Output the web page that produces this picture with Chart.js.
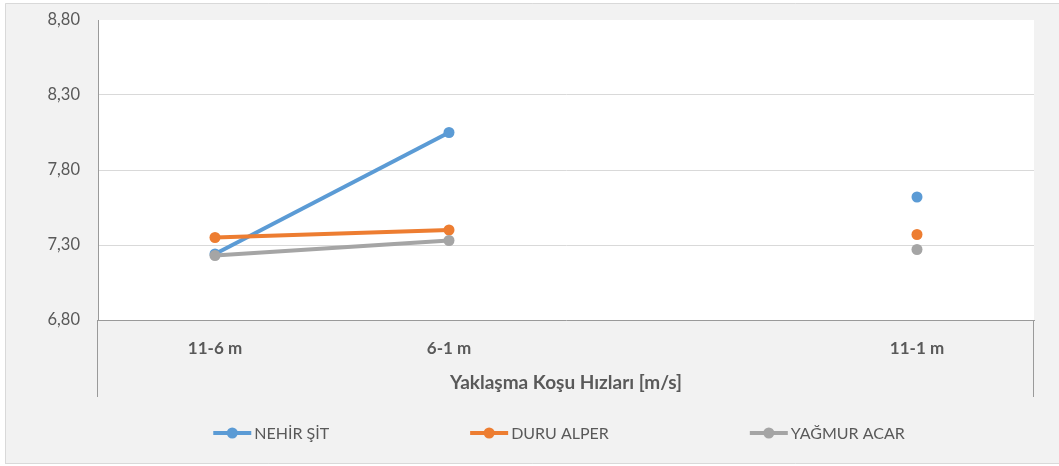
<!DOCTYPE html>
<html><head><meta charset="utf-8">
<script src="https://cdn.jsdelivr.net/npm/chart.js@4.4.1/dist/chart.umd.min.js"></script>
<style>html,body{margin:0;padding:0;background:#fff;overflow:hidden}#wrap{width:1059px;height:466px;position:relative}</style>
</head><body><div id="wrap"><canvas id="c" width="1059" height="466"></canvas></div>
<script>
const categories = ["11-6 m", "6-1 m", "", "11-1 m"];
const seriesNames = ["NEHİR ŞİT", "DURU ALPER", "YAĞMUR ACAR"];
const nehirSit = [7.24, 8.05, null, 7.62];
const duruAlper = [7.35, 7.40, null, 7.37];
const yagmurAcar = [7.23, 7.33, null, 7.27];
const yTicks = [6.8, 7.3, 7.8, 8.3, 8.8];
const xTitle = "Yaklaşma Koşu Hızları [m/s]";

const colors = ["#5b9bd5", "#ed7d31", "#a5a5a5"];
const FONT = "Lato";
const TXT = "#595959";
const AXIS = "#9a9a9a";

function ds(i, data, order) {
  return {
    label: seriesNames[i], data: data, order: order,
    borderColor: colors[i], backgroundColor: colors[i],
    pointBackgroundColor: colors[i], pointBorderColor: colors[i],
    borderWidth: 4, pointRadius: 5.5, pointBorderWidth: 0, pointHoverRadius: 5.5,
    tension: 0, spanGaps: false, fill: false
  };
}

const framePlugin = {
  id: 'frame',
  beforeDraw(chart) {
    const ctx = chart.ctx, a = chart.chartArea;
    ctx.save();
    ctx.fillStyle = '#ffffff';
    ctx.fillRect(0, 0, chart.width, chart.height);
    ctx.fillStyle = '#f2f2f2';
    ctx.fillRect(5, 3, chart.width - 5, 461);
    ctx.strokeStyle = '#d9d9d9';
    ctx.lineWidth = 1;
    ctx.beginPath();
    ctx.moveTo(5.5, 464); ctx.lineTo(5.5, 3.5); ctx.lineTo(chart.width, 3.5);
    ctx.moveTo(5.5, 463.5); ctx.lineTo(chart.width, 463.5);
    ctx.stroke();
    ctx.fillStyle = '#ffffff';
    ctx.fillRect(a.left, a.top, a.right - a.left, a.bottom - a.top);
    ctx.restore();
  },
  afterDraw(chart) {
    const ctx = chart.ctx, a = chart.chartArea;
    ctx.save();
    ctx.strokeStyle = AXIS;
    ctx.lineWidth = 1;
    ctx.beginPath();
    const yEnd = a.bottom + 77;
    ctx.moveTo(Math.round(a.left) - 0.5, a.bottom); ctx.lineTo(Math.round(a.left) - 0.5, yEnd);
    ctx.moveTo(Math.round(a.right) - 0.5, a.bottom); ctx.lineTo(Math.round(a.right) - 0.5, yEnd);
    ctx.stroke();

    // legend
    ctx.font = "16px " + FONT;
    ctx.textBaseline = 'middle';
    ctx.textAlign = 'left';
    const dsets = chart.data.datasets;
    const symW = 38, gapSym = 3, gapItem = 141, cy = 433, cx = 559;
    const widths = dsets.map(d => symW + gapSym + ctx.measureText(d.label).width);
    const total = widths.reduce((s, w) => s + w, 0) + gapItem * (dsets.length - 1);
    let x = cx - total / 2;
    dsets.forEach((d, i) => {
      ctx.strokeStyle = d.borderColor;
      ctx.lineWidth = 4;
      ctx.beginPath(); ctx.moveTo(x, cy); ctx.lineTo(x + symW, cy); ctx.stroke();
      ctx.fillStyle = d.borderColor;
      ctx.beginPath(); ctx.arc(x + symW / 2, cy, 5.5, 0, Math.PI * 2); ctx.fill();
      ctx.fillStyle = TXT;
      ctx.fillText(d.label, x + symW + gapSym, cy + 1);
      x += widths[i] + gapItem;
    });
    ctx.restore();
  }
};

new Chart(document.getElementById('c'), {
  type: 'line',
  data: {
    labels: categories,
    datasets: [ds(0, nehirSit, 3), ds(1, duruAlper, 2), ds(2, yagmurAcar, 1)]
  },
  options: {
    responsive: false, animation: false, devicePixelRatio: 1,
    layout: { padding: { left: 5, right: 25, top: 20, bottom: 0 } },
    plugins: { legend: { display: false }, tooltip: { enabled: false } },
    scales: {
      x: {
        type: 'category', offset: true,
        grid: { display: false, drawTicks: false },
        border: { display: true, color: AXIS, width: 1 },
        ticks: { color: TXT, font: { family: FONT, size: 17, weight: 'bold' }, padding: 18, maxRotation: 0, autoSkip: false },
        title: { display: true, text: xTitle, color: TXT, font: { family: FONT, size: 19, weight: 'bold' }, padding: { top: 0, bottom: 71.5 } },
        afterFit: s => { s.height = 146; }
      },
      y: {
        min: 6.8, max: 8.8,
        afterBuildTicks: s => { s.ticks = yTicks.map(v => ({ value: v })); },
        grid: { drawTicks: false, color: c => (c.tick && (c.tick.value === 8.8 || c.tick.value === 6.8)) ? 'rgba(0,0,0,0)' : '#d9d9d9', lineWidth: 1 },
        border: { display: true, color: AXIS, width: 1 },
        ticks: { color: TXT, font: { family: FONT, size: 16.5 }, padding: 18, callback: v => Number(v).toFixed(2).replace('.', ',') },
        afterFit: s => { s.width = 93; s.paddingTop = 10; s.paddingBottom = 10; }
      }
    }
  },
  plugins: [framePlugin]
});
</script></body></html>
